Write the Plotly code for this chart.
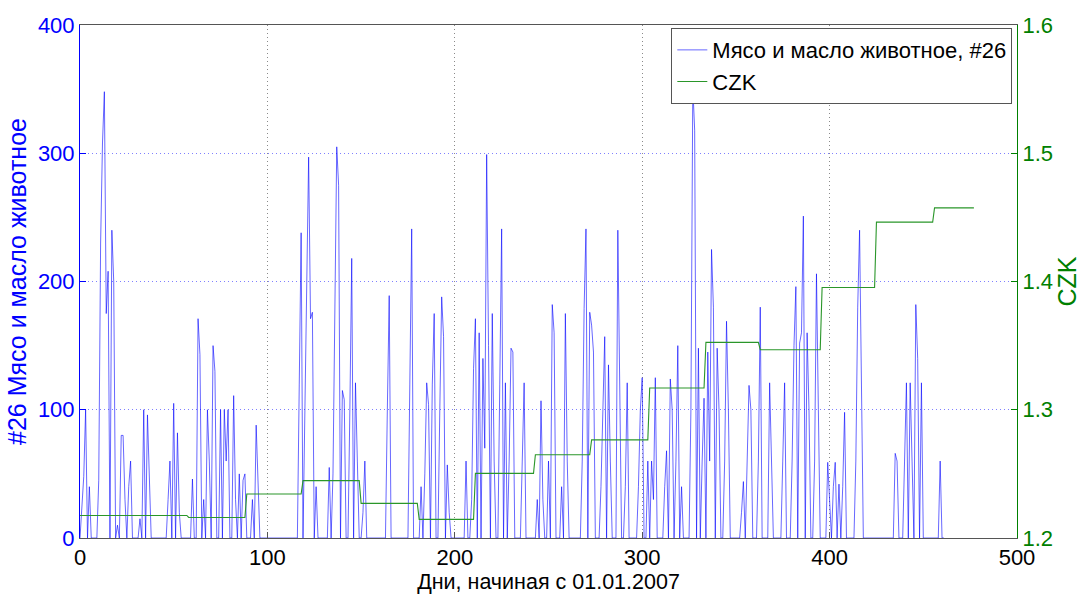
import numpy as np
import plotly.graph_objects as go

# Daily sales of "Мясо и масло животное" (#26), day 0 = 01.01.2007
meat_days_000_049 = [0, 25, 48, 100, 0, 40, 0, 0, 0, 0,
                     45, 230, 308, 348, 175, 208, 0, 240, 200, 0,
                     10, 0, 80, 80, 30, 0, 40, 60, 0, 0,
                     0, 0, 15, 0, 100, 0, 96, 40, 0, 0,
                     0, 0, 0, 0, 0, 0, 0, 30, 60, 0]
meat_days_050_099 = [105, 0, 82, 20, 0, 0, 0, 0, 0, 0,
                     46, 0, 0, 171, 143, 0, 30, 0, 100, 60,
                     0, 150, 130, 0, 0, 100, 0, 100, 60, 100,
                     0, 0, 111, 30, 0, 50, 0, 45, 50, 0,
                     0, 0, 30, 0, 88, 45, 0, 0, 0, 0]
meat_days_100_149 = [0, 0, 0, 0, 0, 0, 0, 0, 0, 0,
                     0, 0, 0, 0, 0, 0, 0, 120, 238, 0,
                     88, 200, 297, 171, 176, 0, 40, 0, 0, 0,
                     0, 0, 0, 55, 0, 50, 190, 305, 275, 0,
                     115, 108, 0, 0, 100, 218, 0, 121, 60, 0]
meat_days_150_199 = [0, 20, 60, 0, 0, 0, 0, 0, 0, 0,
                     0, 0, 0, 0, 100, 189, 0, 0, 0, 0,
                     0, 0, 0, 0, 0, 0, 120, 241, 0, 0,
                     0, 0, 40, 0, 50, 121, 104, 0, 120, 175,
                     0, 0, 100, 188, 157, 0, 57, 20, 0, 0]
meat_days_200_249 = [0, 0, 0, 0, 0, 0, 60, 0, 0, 30,
                     132, 171, 0, 160, 0, 140, 70, 299, 150, 0,
                     175, 60, 0, 0, 120, 241, 0, 121, 0, 60,
                     148, 145, 0, 0, 0, 0, 60, 121, 0, 0,
                     0, 0, 0, 0, 30, 0, 107, 30, 0, 0]
meat_days_250_299 = [60, 0, 182, 160, 0, 0, 0, 40, 0, 175,
                     60, 0, 0, 0, 0, 0, 0, 0, 60, 179,
                     241, 0, 176, 166, 145, 0, 0, 0, 40, 100,
                     157, 0, 135, 60, 0, 0, 0, 240, 100, 0,
                     0, 40, 121, 0, 0, 0, 0, 0, 40, 100]
meat_days_300_349 = [125, 0, 0, 60, 0, 60, 30, 125, 0, 0,
                     0, 0, 40, 68, 0, 124, 100, 0, 60, 150,
                     0, 40, 0, 0, 0, 0, 100, 352, 318, 0,
                     148, 0, 60, 109, 0, 145, 60, 225, 180, 0,
                     148, 100, 0, 0, 60, 169, 100, 0, 0, 0]
meat_days_350_399 = [0, 0, 0, 20, 44, 0, 60, 119, 100, 0,
                     0, 0, 60, 180, 0, 0, 0, 0, 121, 60,
                     0, 0, 0, 0, 0, 60, 121, 0, 0, 0,
                     60, 150, 196, 0, 152, 160, 251, 0, 160, 100,
                     0, 0, 60, 206, 100, 0, 0, 0, 0, 59]
meat_days_400_461 = [30, 0, 40, 59, 0, 42, 0, 40, 98, 0,
                     0, 0, 0, 0, 60, 180, 240, 121, 0, 0,
                     0, 0, 0, 0, 0, 0, 0, 0, 0, 0,
                     0, 0, 0, 0, 0, 66, 60, 0, 0, 0,
                     60, 121, 0, 121, 60, 0, 182, 140, 0, 121,
                     0, 0, 0, 0, 0, 0, 0, 0, 0, 60,
                     0, 0]

meat = (meat_days_000_049 + meat_days_050_099 + meat_days_100_149 +
        meat_days_150_199 + meat_days_200_249 + meat_days_250_299 +
        meat_days_300_349 + meat_days_350_399 + meat_days_400_461)
meat_day = list(range(len(meat)))

# CZK exchange rate: first day of each level and the level itself
czk_start_day = [0, 58, 89, 119, 150, 181, 211, 243, 273, 304, 334, 363, 396, 425, 456]
czk_level = [1.2176, 1.2160, 1.2343, 1.2447, 1.2270, 1.2145, 1.2504, 1.2649,
             1.2765, 1.3170, 1.3525, 1.3468, 1.3953, 1.4463, 1.4574]
czk_last_day = 477

czk_day = list(range(czk_last_day + 1))
czk = [czk_level[int(np.searchsorted(czk_start_day, d, side="right")) - 1] for d in czk_day]

FONT = "Liberation Sans, Arial, sans-serif"
BLUE = "#0000ff"
GREEN = "#008000"
GREEN_LINE = "#2a962a"
GRID_DOT = "1px,3px"

fig = go.Figure()
fig.add_trace(go.Scatter(
    x=meat_day, y=meat, mode="lines", name="Мясо и масло животное, #26",
    line=dict(color=BLUE, width=0.6), yaxis="y"))
fig.add_trace(go.Scatter(
    x=czk_day, y=czk, mode="lines", name="CZK",
    line=dict(color=GREEN_LINE, width=1.1), yaxis="y2"))

fig.update_layout(
    width=1089, height=597,
    margin=dict(l=80, r=72, t=25, b=56),
    paper_bgcolor="white", plot_bgcolor="white",
    font=dict(family=FONT, size=22, color="black"),
    showlegend=True,
    legend=dict(
        x=0.995, y=0.994, xanchor="right", yanchor="top",
        bgcolor="white", bordercolor="#555555", borderwidth=1,
        font=dict(family=FONT, size=22, color="black"),
        tracegroupgap=0, itemwidth=30,
    ),
    xaxis=dict(
        range=[0, 500], dtick=100, tick0=0,
        showgrid=True, gridcolor="#8a8a8a", griddash=GRID_DOT, gridwidth=1,
        showline=True, linecolor="#555555", linewidth=1, mirror=True,
        ticks="inside", ticklen=6, tickcolor="#555555",
        zeroline=False,
        tickfont=dict(size=22, color="black"),
        title=dict(text="Дни, начиная с 01.01.2007", font=dict(size=21.5, color="black"),
                   standoff=0),
    ),
    yaxis=dict(
        range=[0, 400], dtick=100, tick0=0,
        showgrid=True, gridcolor="#8080ff", griddash=GRID_DOT, gridwidth=1,
        showline=True, linecolor=BLUE, linewidth=1,
        ticks="inside", ticklen=6, tickcolor=BLUE,
        zeroline=False,
        tickfont=dict(size=22, color=BLUE),
        title=dict(text="#26 Мясо и масло животное", font=dict(size=25, color=BLUE),
                   standoff=4),
    ),
    yaxis2=dict(
        range=[1.2, 1.6], dtick=0.1, tick0=1.2, tickformat=".1f",
        overlaying="y", side="right",
        showgrid=False,
        showline=True, linecolor=GREEN, linewidth=1,
        ticks="inside", ticklen=6, tickcolor=GREEN,
        zeroline=False,
        tickfont=dict(size=22, color=GREEN),
        title=dict(text="CZK", font=dict(size=25, color=GREEN), standoff=6),
    ),
)

fig.write_html("out.html")
